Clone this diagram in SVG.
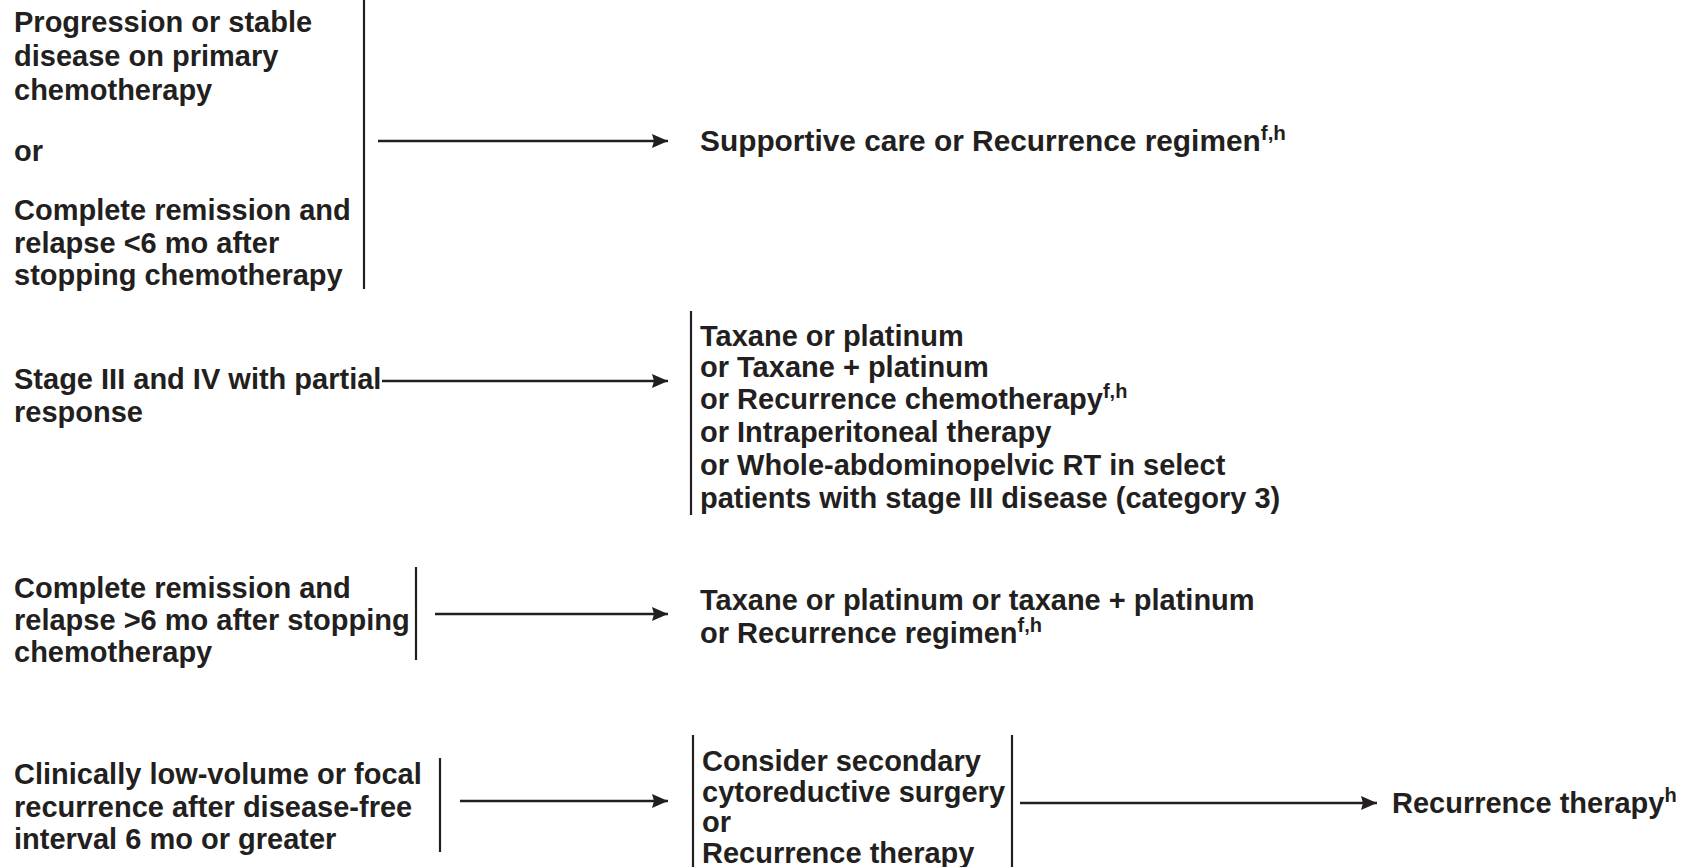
<svg xmlns="http://www.w3.org/2000/svg" width="1683" height="867" viewBox="0 0 1683 867">
  <style>
    .t { font-family: "Liberation Sans", Arial, Helvetica, sans-serif; font-weight: bold; font-size: 29px; fill: #231f20; }
    .sup { font-size: 20px; }
    .bar { stroke: #231f20; stroke-width: 2.2; fill: none; }
    .arr { stroke: #231f20; stroke-width: 2.4; fill: none; marker-end: url(#head); }
  </style>
  <defs>
    <marker id="head" viewBox="0 0 16 14" refX="16" refY="7" markerWidth="16" markerHeight="14" markerUnits="userSpaceOnUse" orient="auto">
      <path d="M0,0 L16,7 L0,14 L2,7 Z" fill="#231f20"/>
    </marker>
  </defs>
  <rect width="1683" height="867" fill="#ffffff"/>

  <!-- Row 1 -->
  <g id="n1">
    <text class="t" x="14" y="32">Progression or stable</text>
    <text class="t" x="14" y="66">disease on primary</text>
    <text class="t" x="14" y="100">chemotherapy</text>
    <text class="t" x="14" y="161">or</text>
    <text class="t" x="14" y="220">Complete remission and</text>
    <text class="t" x="14" y="253">relapse &lt;6 mo after</text>
    <text class="t" x="14" y="285">stopping chemotherapy</text>
  </g>
  <g id="n2" transform="translate(700,0) scale(1.03,1)">
    <text class="t" x="0" y="151">Supportive care or Recurrence regimen<tspan class="sup" dy="-11">f,h</tspan></text>
  </g>

  <!-- Row 2 -->
  <g id="n3">
    <text class="t" x="14" y="389">Stage III and IV with partial</text>
    <text class="t" x="14" y="422">response</text>
  </g>
  <g id="n4">
    <text class="t" x="700" y="346">Taxane or platinum</text>
    <text class="t" x="700" y="377">or Taxane + platinum</text>
    <text class="t" x="700" y="409">or Recurrence chemotherapy<tspan class="sup" dy="-11">f,h</tspan></text>
    <text class="t" x="700" y="442">or Intraperitoneal therapy</text>
    <text class="t" x="700" y="475">or Whole-abdominopelvic RT in select</text>
    <text class="t" x="700" y="508">patients with stage III disease (category 3)</text>
  </g>

  <!-- Row 3 -->
  <g id="n5">
    <text class="t" x="14" y="598">Complete remission and</text>
    <text class="t" x="14" y="630">relapse &gt;6 mo after stopping</text>
    <text class="t" x="14" y="662">chemotherapy</text>
  </g>
  <g id="n6">
    <text class="t" x="700" y="610">Taxane or platinum or taxane + platinum</text>
    <text class="t" x="700" y="643">or Recurrence regimen<tspan class="sup" dy="-11">f,h</tspan></text>
  </g>

  <!-- Row 4 -->
  <g id="n7">
    <text class="t" x="14" y="784">Clinically low-volume or focal</text>
    <text class="t" x="14" y="817">recurrence after disease-free</text>
    <text class="t" x="14" y="849">interval 6 mo or greater</text>
  </g>
  <g id="n8">
    <text class="t" x="702" y="771">Consider secondary</text>
    <text class="t" x="702" y="802">cytoreductive surgery</text>
    <text class="t" x="702" y="832">or</text>
    <text class="t" x="702" y="863">Recurrence therapy</text>
  </g>
  <g id="n9">
    <text class="t" x="1392" y="813">Recurrence therapy<tspan class="sup" dy="-11">h</tspan></text>
  </g>

  <!-- Connectors: bracket bars and arrows -->
  <g id="connectors">
    <line class="bar" x1="364" y1="0" x2="364" y2="289"/>
    <line class="arr" x1="378" y1="141" x2="668" y2="141"/>

    <line class="arr" x1="382" y1="381" x2="668" y2="381"/>
    <line class="bar" x1="691" y1="311" x2="691" y2="515"/>

    <line class="bar" x1="416" y1="567" x2="416" y2="660"/>
    <line class="arr" x1="435" y1="614" x2="668" y2="614"/>

    <line class="bar" x1="440" y1="758" x2="440" y2="852"/>
    <line class="arr" x1="460" y1="801" x2="668" y2="801"/>
    <line class="bar" x1="693" y1="735" x2="693" y2="867"/>
    <line class="bar" x1="1012" y1="735" x2="1012" y2="867"/>
    <line class="arr" x1="1020" y1="803" x2="1377" y2="803"/>
  </g>
</svg>
